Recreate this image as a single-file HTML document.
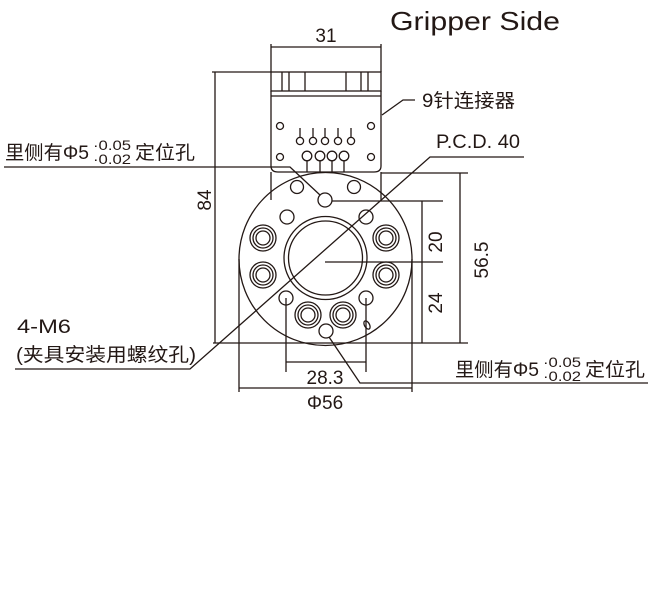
<!DOCTYPE html>
<html><head><meta charset="utf-8"><style>
html,body{margin:0;padding:0;background:#fff}
svg{display:block}
text{font-family:"Liberation Sans","Noto Sans CJK SC",sans-serif;fill:#231815}
</style></head><body>
<svg width="650" height="600" viewBox="0 0 650 600" xmlns="http://www.w3.org/2000/svg">
<g stroke="#231815" stroke-width="1.3" fill="none">
<line x1="271" y1="44" x2="271" y2="72"/><line x1="381" y1="44" x2="381" y2="72"/>
<line x1="271" y1="47" x2="381" y2="47"/>
<rect x="271" y="72" width="110" height="19"/>
<line x1="271" y1="96" x2="381" y2="96"/>
<line x1="282" y1="72" x2="282" y2="91"/><line x1="289" y1="72" x2="289" y2="91"/><line x1="305" y1="72" x2="305" y2="91"/>
<line x1="346" y1="72" x2="346" y2="91"/><line x1="361" y1="72" x2="361" y2="91"/><line x1="368" y1="72" x2="368" y2="91"/>
<path d="M271 91 V166 Q271 172 278 172 H374 Q381 172 381 166 V91"/>
<line x1="271" y1="172" x2="271" y2="200"/><line x1="381" y1="172" x2="381" y2="200"/>
<circle cx="280" cy="126" r="3.5"/><circle cx="371" cy="126" r="3.5"/>
<circle cx="280" cy="157" r="3.5"/><circle cx="371" cy="157" r="3.5"/>
<g>
<circle cx="300" cy="141" r="3.6"/><circle cx="313" cy="141" r="3.6"/><circle cx="325" cy="141" r="3.6"/><circle cx="338" cy="141" r="3.6"/><circle cx="351" cy="141" r="3.6"/>
<line x1="300" y1="128" x2="300" y2="137"/><line x1="313" y1="128" x2="313" y2="137"/><line x1="325" y1="128" x2="325" y2="137"/><line x1="338" y1="128" x2="338" y2="137"/><line x1="351" y1="128" x2="351" y2="137"/>
<circle cx="307" cy="156" r="4.8"/><circle cx="320" cy="156" r="4.8"/><circle cx="332" cy="156" r="4.8"/><circle cx="344" cy="156" r="4.8"/>
<line x1="307" y1="161" x2="307" y2="172"/><line x1="320" y1="161" x2="320" y2="172"/><line x1="332" y1="161" x2="332" y2="172"/><line x1="344" y1="161" x2="344" y2="172"/>
</g>
<circle cx="325.5" cy="259" r="86.5"/>
<circle cx="325.5" cy="258" r="41.5"/>
<circle cx="325.5" cy="258" r="37"/>
<circle cx="297" cy="187" r="6.5"/><circle cx="354" cy="187" r="6.5"/>
<circle cx="325" cy="200" r="7"/>
<circle cx="287" cy="217" r="7"/><circle cx="366" cy="217" r="7"/>
<circle cx="286" cy="298" r="7"/><circle cx="366" cy="298" r="7"/>
<circle cx="326" cy="331" r="7"/>
<ellipse cx="367" cy="325" rx="2.5" ry="4.5" transform="rotate(-30 367 325)"/>
<g>
<circle cx="263" cy="238" r="13"/><circle cx="263" cy="238" r="10"/><circle cx="263" cy="238" r="7"/>
<circle cx="386" cy="238" r="13"/><circle cx="386" cy="238" r="10"/><circle cx="386" cy="238" r="7"/>
<circle cx="263" cy="275" r="13"/><circle cx="263" cy="275" r="10"/><circle cx="263" cy="275" r="7"/>
<circle cx="386" cy="275" r="13"/><circle cx="386" cy="275" r="10"/><circle cx="386" cy="275" r="7"/>
<circle cx="308" cy="315" r="13"/><circle cx="308" cy="315" r="10"/><circle cx="308" cy="315" r="7"/>
<circle cx="343" cy="315" r="13"/><circle cx="343" cy="315" r="10"/><circle cx="343" cy="315" r="7"/>
</g>
<line x1="212" y1="72" x2="271" y2="72"/>
<line x1="215" y1="72" x2="215" y2="343"/>
<line x1="213" y1="343" x2="468" y2="343"/>
<line x1="381" y1="173" x2="468" y2="173"/>
<line x1="460" y1="173" x2="460" y2="343"/>
<line x1="332" y1="201" x2="443" y2="201"/>
<line x1="325" y1="262" x2="443" y2="262"/>
<line x1="422" y1="201" x2="422" y2="343"/>
<line x1="286" y1="298" x2="286" y2="372"/><line x1="366" y1="298" x2="366" y2="372"/>
<line x1="286" y1="362" x2="366" y2="362"/>
<line x1="239" y1="259" x2="239" y2="392"/><line x1="412" y1="259" x2="412" y2="392"/>
<line x1="239" y1="388" x2="412" y2="388"/>
<polyline points="4,167 290,167 320,195"/>
<polyline points="15,369 190,369 430,157 524,157"/>
<polyline points="382,115 403,100 415,100"/>
<polyline points="329,337 360,383 648,383"/>
</g>
<g font-size="19">
<text x="390" y="30" font-size="26" textLength="170" lengthAdjust="spacingAndGlyphs">Gripper Side</text>
<text x="326" y="42" text-anchor="middle">31</text>
<text x="422" y="107" textLength="93" lengthAdjust="spacingAndGlyphs">9针连接器</text>
<text x="436" y="148" textLength="84" lengthAdjust="spacingAndGlyphs">P.C.D. 40</text>
<text x="5" y="159" textLength="84" lengthAdjust="spacingAndGlyphs">里侧有Φ5</text>
<text x="93" y="150" font-size="14" textLength="38" lengthAdjust="spacingAndGlyphs">·0.05</text>
<text x="93" y="164" font-size="14" textLength="38" lengthAdjust="spacingAndGlyphs">·0.02</text>
<text x="135" y="159" textLength="60" lengthAdjust="spacingAndGlyphs">定位孔</text>
<text x="455" y="376" textLength="84" lengthAdjust="spacingAndGlyphs">里侧有Φ5</text>
<text x="543" y="367" font-size="14" textLength="38" lengthAdjust="spacingAndGlyphs">·0.05</text>
<text x="543" y="381" font-size="14" textLength="38" lengthAdjust="spacingAndGlyphs">·0.02</text>
<text x="585" y="376" textLength="60" lengthAdjust="spacingAndGlyphs">定位孔</text>
<text x="17" y="333" textLength="54" lengthAdjust="spacingAndGlyphs">4-M6</text>
<text x="16" y="361" textLength="180" lengthAdjust="spacingAndGlyphs">(夹具安装用螺纹孔)</text>
<text x="325" y="384" text-anchor="middle">28.3</text>
<text x="325" y="409" text-anchor="middle">Φ56</text>
<text transform="translate(211 200) rotate(-90)" text-anchor="middle">84</text>
<text transform="translate(442 242) rotate(-90)" text-anchor="middle">20</text>
<text transform="translate(442 303) rotate(-90)" text-anchor="middle">24</text>
<text transform="translate(488 260) rotate(-90)" text-anchor="middle">56.5</text>
</g>
</svg>
</body></html>
